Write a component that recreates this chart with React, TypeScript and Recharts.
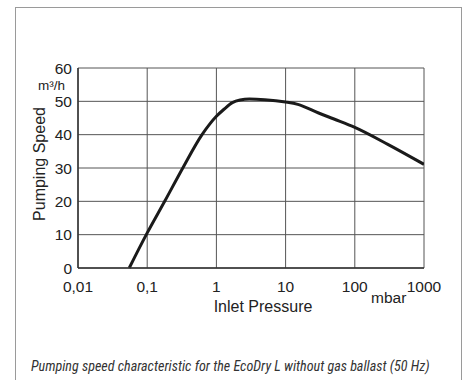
import React from 'react';
import { LineChart, Line, XAxis, YAxis, CartesianGrid, Label } from 'recharts';

const pressure = [0.055, 0.097, 0.179, 0.327, 0.62, 0.81, 1, 1.3, 1.7, 2.2, 3, 5, 10, 15, 30, 50, 100, 300, 1000];
const speed = [0, 10, 20, 30, 40, 43.3, 45.5, 47.7, 49.6, 50.4, 50.7, 50.5, 49.8, 49.1, 46.5, 44.7, 42.2, 37.1, 31.1];

const xTicks = [0.01, 0.1, 1, 10, 100, 1000];
const xTickLabels = ['0,01', '0,1', '1', '10', '100', '1000'];
const yTicks = [0, 10, 20, 30, 40, 50, 60];

const data = pressure.map((p, i) => ({ p, s: speed[i] }));

const font = '"Liberation Sans", Arial, sans-serif';
const tickStyle = { fill: '#222', fontSize: 15.5, fontFamily: font };

const App: React.FC = () => {
  return (
    <div style={{ position: 'absolute', left: 0, top: 0, width: 463, height: 380, overflow: 'hidden', background: '#fff' }}>
      <div style={{ position: 'absolute', left: 15, top: 7, width: 445, height: 400, border: '1px solid #9a9a9a' }} />
      <LineChart
        width={463}
        height={380}
        data={data}
        margin={{ top: 68, right: 39, left: 38, bottom: 66 }}
        style={{ position: 'absolute', left: 0, top: 0 }}
      >
        <CartesianGrid stroke="#555" strokeWidth={1} />
        <XAxis
          dataKey="p"
          type="number"
          scale="log"
          domain={[0.01, 1000]}
          ticks={xTicks}
          tickFormatter={(v: number) => xTickLabels[xTicks.indexOf(v)]}
          axisLine={{ stroke: '#333', strokeWidth: 1.5 }}
          tickLine={false}
          tick={tickStyle}
          tickMargin={7}
          height={46}
          allowDataOverflow
        >
          <Label
            position="insideBottom"
            offset={2}
            dx={12}
            value="Inlet Pressure"
            style={{ fill: '#222', fontSize: 16, fontFamily: font }}
          />
        </XAxis>
        <YAxis
          type="number"
          domain={[0, 60]}
          ticks={yTicks}
          axisLine={{ stroke: '#333', strokeWidth: 1.5 }}
          tickLine={false}
          tick={tickStyle}
          tickMargin={0}
          width={40}
          label={(props: any) => {
            const vb = props.viewBox || {};
            const top = vb.y ?? 68;
            const h = vb.height ?? 200;
            const cx = 39;
            const cy = top + h / 2 - 4;
            return (
              <g>
                <text
                  x={cx}
                  y={cy}
                  transform={`rotate(-90 ${cx} ${cy})`}
                  textAnchor="middle"
                  dominantBaseline="central"
                  style={{ fill: '#222', fontSize: 16, fontFamily: font }}
                >
                  Pumping Speed
                </text>
                <text
                  x={65}
                  y={top + 22}
                  textAnchor="end"
                  style={{ fill: '#222', fontSize: 13.5, fontFamily: font }}
                >
                  m³/h
                </text>
              </g>
            );
          }}
        />
        <Line
          type="monotone"
          dataKey="s"
          stroke="#1a1a1a"
          strokeWidth={3}
          dot={false}
          isAnimationActive={false}
        />
      </LineChart>
      <div style={{ position: 'absolute', left: 371, top: 289, fontSize: 15.5, fontFamily: font, color: '#222' }}>mbar</div>
      <div
        style={{
          position: 'absolute',
          left: 31,
          top: 358,
          fontSize: 14.1,
          fontStyle: 'italic',
          fontFamily: '"Roboto Condensed", "Liberation Sans Narrow", sans-serif',
          color: '#333',
          whiteSpace: 'nowrap',
        }}
      >
        Pumping speed characteristic for the EcoDry L without gas ballast (50 Hz)
      </div>
    </div>
  );
};

export default App;
